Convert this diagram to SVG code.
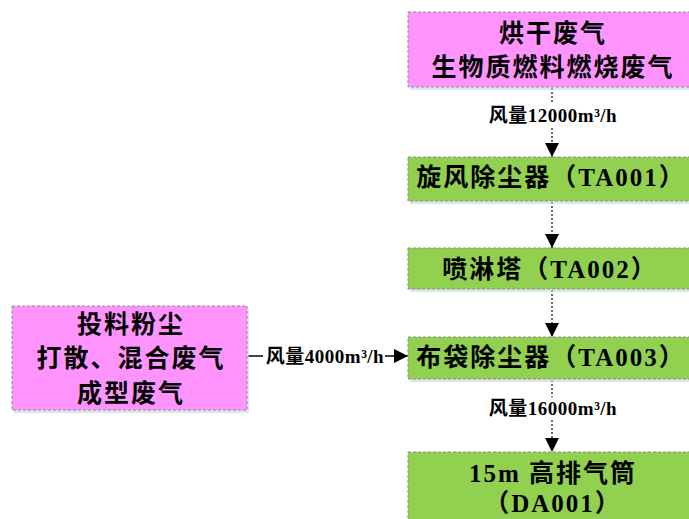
<svg xmlns="http://www.w3.org/2000/svg" width="689" height="519" viewBox="0 0 689 519">
<defs>
<style>
.box{stroke:#8c8c8c;stroke-width:1;stroke-dasharray:3,2}
.pink{fill:#FF94FF}
.green{fill:#92D050}
.sh{fill:#c9d3e0;opacity:0.6}
.t{font-family:"Liberation Serif","Noto Sans CJK SC",serif;font-weight:bold;font-size:25px;letter-spacing:2px;fill:#000;text-anchor:middle;dominant-baseline:central}
.lbl{font-family:"Liberation Serif","Noto Sans CJK SC",serif;font-weight:bold;font-size:19px;letter-spacing:0.5px;fill:#000;text-anchor:middle;dominant-baseline:central}
.dot{stroke:#333;stroke-width:1.5;stroke-dasharray:2,2;fill:none}
.sol{stroke:#000;stroke-width:1.5;fill:none}
</style>
<marker id="ah" viewBox="0 0 10 10" refX="10" refY="5" markerWidth="14" markerHeight="14" markerUnits="userSpaceOnUse" orient="auto">
<path d="M0,0 L10,5 L0,10 z" fill="#000"/>
</marker>
</defs>
<rect width="689" height="519" fill="#fff"/>
<g id="connectors">
<line class="dot" x1="552" y1="88" x2="552" y2="157" marker-end="url(#ah)"/>
<rect x="484" y="104" width="138" height="22" fill="#fff"/>
<text class="lbl" x="553" y="115">风量12000m³/h</text>
<line class="dot" x1="552" y1="202" x2="552" y2="248" marker-end="url(#ah)"/>
<line class="dot" x1="552" y1="290" x2="552" y2="337" marker-end="url(#ah)"/>
<line class="dot" x1="552" y1="380" x2="552" y2="452" marker-end="url(#ah)"/>
<rect x="484" y="397" width="138" height="22" fill="#fff"/>
<text class="lbl" x="553" y="408">风量16000m³/h</text>
<line class="sol" x1="248" y1="356" x2="408" y2="356" marker-end="url(#ah)"/>
<rect x="263" y="345" width="122" height="22" fill="#fff"/>
<text class="lbl" x="325" y="356">风量4000m³/h</text>
</g>
<g id="n1">
<rect class="sh" x="410" y="14" width="288" height="76"/>
<rect class="box pink" x="408" y="12" width="288" height="75"/>
<text class="t" x="553" y="33">烘干废气</text>
<text class="t" x="553" y="67">生物质燃料燃烧废气</text>
</g>
<g id="n2">
<rect class="sh" x="410" y="159" width="288" height="45"/>
<rect class="box green" x="408" y="157" width="288" height="44"/>
<text class="t" x="551" y="177">旋风除尘器（TA001）</text>
</g>
<g id="n3">
<rect class="sh" x="410" y="250" width="288" height="42"/>
<rect class="box green" x="408" y="248" width="288" height="41"/>
<text class="t" x="550" y="269">喷淋塔（TA002）</text>
</g>
<g id="n4">
<rect class="sh" x="410" y="339" width="288" height="43"/>
<rect class="box green" x="408" y="337" width="288" height="42"/>
<text class="t" x="551" y="357">布袋除尘器（TA003）</text>
</g>
<g id="n5">
<rect class="sh" x="410" y="454" width="288" height="80"/>
<rect class="box green" x="408" y="452" width="288" height="80"/>
<text class="t" x="553" y="473">15m 高排气筒</text>
<text class="t" x="553" y="503">（DA001）</text>
</g>
<g id="n6">
<rect class="sh" x="14" y="308" width="235" height="105"/>
<rect class="box pink" x="12" y="306" width="235" height="104"/>
<text class="t" x="131" y="324">投料粉尘</text>
<text class="t" x="131" y="358">打散、混合废气</text>
<text class="t" x="131" y="393">成型废气</text>
</g>
</svg>
